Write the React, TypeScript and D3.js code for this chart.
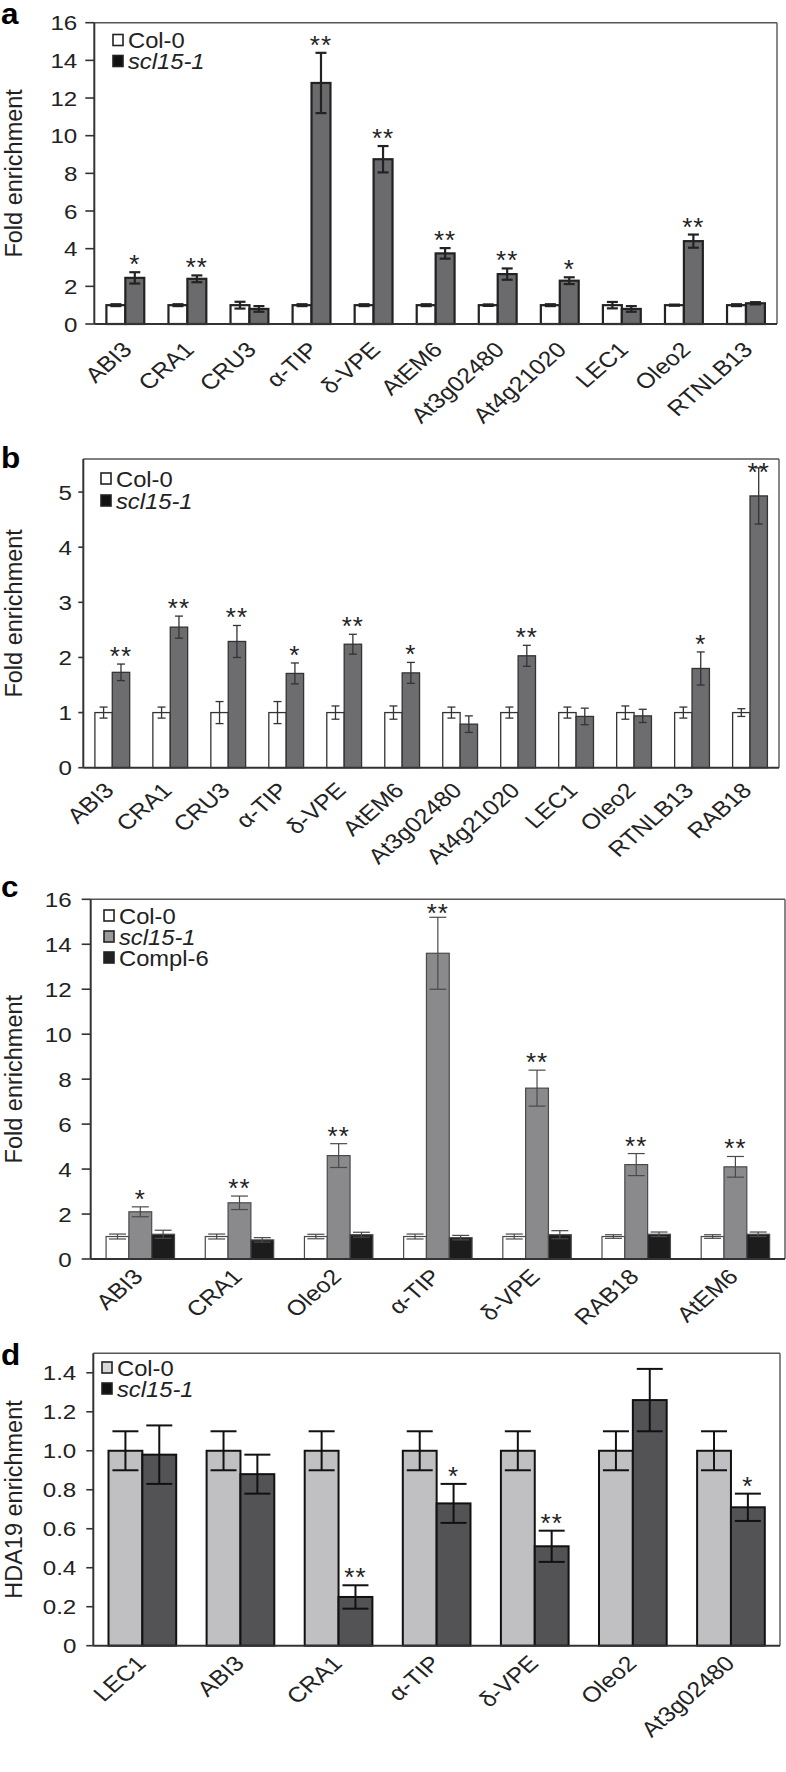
import * as d3 from "d3";
import React from "react";

// panel a
const catsA = ["ABI3", "CRA1", "CRU3", "α-TIP", "δ-VPE", "AtEM6", "At3g02480", "At4g21020", "LEC1", "Oleo2", "RTNLB13"];
const colA = [1, 1, 1, 1, 1, 1, 1, 1, 1, 1, 1];
const colErrA = [0.05, 0.05, 0.18, 0.05, 0.05, 0.05, 0.04, 0.05, 0.17, 0.03, 0.05];
const sclA = [2.45, 2.4, 0.8, 12.8, 8.75, 3.75, 2.65, 2.3, 0.8, 4.4, 1.1];
const sclErrA = [0.3, 0.18, 0.15, 1.6, 0.7, 0.28, 0.3, 0.18, 0.15, 0.35, 0.06];
const starsA = ["*", "**", "", "**", "**", "**", "**", "*", "", "**", ""];
const ticksA = [0, 2, 4, 6, 8, 10, 12, 14, 16];

// panel b
const catsB = ["ABI3", "CRA1", "CRU3", "α-TIP", "δ-VPE", "AtEM6", "At3g02480", "At4g21020", "LEC1", "Oleo2", "RTNLB13", "RAB18"];
const colB = [1, 1, 1, 1, 1, 1, 1, 1, 1, 1, 1, 1];
const colErrB = [0.1, 0.1, 0.2, 0.2, 0.12, 0.12, 0.1, 0.1, 0.1, 0.12, 0.1, 0.07];
const sclB = [1.73, 2.55, 2.29, 1.71, 2.24, 1.72, 0.79, 2.03, 0.93, 0.94, 1.8, 4.93];
const sclErrB = [0.15, 0.2, 0.29, 0.19, 0.18, 0.19, 0.15, 0.19, 0.15, 0.12, 0.3, 0.51];
const starsB = ["**", "**", "**", "*", "**", "*", "", "**", "", "", "*", "**"];
const ticksB = [0, 1, 2, 3, 4, 5];

// panel c
const catsC = ["ABI3", "CRA1", "Oleo2", "α-TIP", "δ-VPE", "RAB18", "AtEM6"];
const colC = [1, 1, 1, 1, 1, 1, 1];
const colErrC = [0.11, 0.11, 0.1, 0.11, 0.11, 0.08, 0.08];
const sclC = [2.1, 2.5, 4.6, 13.6, 7.6, 4.2, 4.1];
const sclErrC = [0.22, 0.3, 0.53, 1.6, 0.8, 0.49, 0.46];
const complC = [1.1, 0.85, 1.08, 0.95, 1.08, 1.1, 1.1];
const complErrC = [0.18, 0.1, 0.11, 0.1, 0.18, 0.1, 0.1];
const starsC = ["*", "**", "**", "**", "**", "**", "**"];
const ticksC = [0, 2, 4, 6, 8, 10, 12, 14, 16];

// panel d
const catsD = ["LEC1", "ABI3", "CRA1", "α-TIP", "δ-VPE", "Oleo2", "At3g02480"];
const colD = [1, 1, 1, 1, 1, 1, 1];
const colErrD = [0.1, 0.1, 0.1, 0.1, 0.1, 0.1, 0.1];
const sclD = [0.98, 0.88, 0.25, 0.73, 0.51, 1.26, 0.71];
const sclErrD = [0.15, 0.1, 0.06, 0.1, 0.08, 0.16, 0.07];
const starsD = ["", "", "**", "*", "**", "", "*"];
const ticksD = [0, 0.2, 0.4, 0.6, 0.8, 1.0, 1.2, 1.4];

const FONT = "'Liberation Sans', Arial, Helvetica, sans-serif";
// the figure's lettering is a little wider than Arial
const SX = 1.15;

type Series = { name: string; values: number[]; errs: number[]; fill: string; legendFill: string; italic?: boolean };

type PanelProps = {
  letter: string;
  letterY: number;
  cats: string[];
  series: Series[];
  stars: string[];
  starSeries: number;
  yMax: number;
  ticks: number[];
  fmt: (v: number) => string;
  left: number;
  right: number;
  top: number;
  bottom: number;
  pad: number;
  stroke: string;
  strokeW: number;
  capW: number;
  tickLen: number;
  labelGap: number;
  catDx: number;
  catDy: number;
  yLabel: string;
  legendX: number;
  legendY: number;
  legendDy: number;
};

const Panel = (p: PanelProps) => {
  const x = d3.scaleBand<string>().domain(p.cats).range([p.left, p.right]).paddingInner(p.pad).paddingOuter(p.pad / 2);
  const inner = d3.scaleBand<number>().domain(p.series.map((_, i) => i)).range([0, x.bandwidth()]);
  const y = d3.scaleLinear().domain([0, p.yMax]).range([p.bottom, p.top]);

  return (
    <g fontFamily={FONT}>
      <text transform={`translate(1,${p.letterY}) scale(1.05,1)`} fontSize={30} fontWeight="bold">{p.letter}</text>
      {/* frame */}
      <line x1={p.left} x2={p.right} y1={p.top} y2={p.top} stroke="#555" strokeWidth={1.4} />
      <line x1={p.right} x2={p.right} y1={p.top} y2={p.bottom} stroke="#555" strokeWidth={1.4} />

      {p.cats.map((c, ci) =>
        p.series.map((s, si) => {
          const bx = (x(c) ?? 0) + (inner(si) ?? 0);
          const bw = inner.bandwidth();
          const v = s.values[ci];
          const e = s.errs[ci];
          const cx = bx + bw / 2;
          return (
            <g key={c + si}>
              <rect x={bx} y={y(v)} width={bw} height={p.bottom - y(v)} fill={s.fill} stroke={p.stroke} strokeWidth={p.strokeW} />
              <line x1={cx} x2={cx} y1={y(v - e)} y2={y(v + e)} stroke={p.stroke} strokeWidth={p.strokeW} />
              <line x1={cx - p.capW / 2} x2={cx + p.capW / 2} y1={y(v + e)} y2={y(v + e)} stroke={p.stroke} strokeWidth={p.strokeW} />
              <line x1={cx - p.capW / 2} x2={cx + p.capW / 2} y1={y(v - e)} y2={y(v - e)} stroke={p.stroke} strokeWidth={p.strokeW} />
            </g>
          );
        })
      )}

      {/* significance stars */}
      {p.cats.map((c, ci) => {
        const s = p.series[p.starSeries];
        if (!p.stars[ci]) return null;
        const cx = (x(c) ?? 0) + (inner(p.starSeries) ?? 0) + inner.bandwidth() / 2;
        const capY = y(s.values[ci] + s.errs[ci]);
        const centre = Math.max(capY - 14.5, p.top + 6.7);
        return (
          <text key={"s" + c} x={cx} y={centre + 15.5} fontSize={26} textAnchor="middle" letterSpacing={1} fill="#222">
            {p.stars[ci]}
          </text>
        );
      })}

      {/* axes */}
      <line x1={p.left} x2={p.right} y1={p.bottom} y2={p.bottom} stroke="#333" strokeWidth={2} />
      <line x1={p.left} x2={p.left} y1={p.top} y2={p.bottom} stroke="#333" strokeWidth={2} />
      {p.ticks.map((t) => (
        <g key={"t" + t}>
          <line x1={p.left - p.tickLen} x2={p.left} y1={y(t)} y2={y(t)} stroke="#333" strokeWidth={1.6} />
          <text
            transform={`translate(${p.left - p.labelGap},${y(t)}) scale(${SX},1)`}
            dy="0.36em"
            fontSize={21}
            textAnchor="end"
            fill="#222"
          >
            {p.fmt(t)}
          </text>
        </g>
      ))}
      <text
        transform={`translate(22,${(p.top + p.bottom) / 2}) rotate(-90)`}
        fontSize={23.5}
        textAnchor="middle"
        fill="#222"
      >
        {p.yLabel}
      </text>

      {/* category labels */}
      {p.cats.map((c) => {
        const cx = (x(c) ?? 0) + x.bandwidth() / 2;
        return (
          <text
            key={"c" + c}
            transform={`translate(${cx + p.catDx},${p.bottom + p.catDy}) scale(${SX},1) rotate(-45)`}
            fontSize={21.5}
            textAnchor="end"
            fill="#222"
          >
            {c}
          </text>
        );
      })}

      {/* legend */}
      {p.series.map((s, si) => {
        const ly = p.legendY + si * p.legendDy;
        return (
          <g key={"l" + si}>
            <rect x={p.legendX} y={ly - 13.5} width={10} height={11} fill={s.legendFill} stroke="#222" strokeWidth={1.6} />
            <text
              transform={`translate(${p.legendX + 15},${ly}) scale(1.08,1)`}
              fontSize={22}
              fontStyle={s.italic ? "italic" : "normal"}
              fill="#222"
            >
              {s.name}
            </text>
          </g>
        );
      })}
    </g>
  );
};

const fmtInt = (v: number) => d3.format("d")(v);
const fmtD = (v: number) => (v === 0 ? "0" : d3.format(".1f")(v));

const App = () => {
  return (
    <svg width={786} height={1772} style={{ position: "absolute", left: 0, top: 0, background: "#fff" }}>
      <rect width={786} height={1772} fill="#fff" />
      <Panel
        letter="a" letterY={24} cats={catsA}
        series={[
          { name: "Col-0", values: colA, errs: colErrA, fill: "#fff", legendFill: "#fff" },
          { name: "scl15-1", values: sclA, errs: sclErrA, fill: "#6b6b6e", legendFill: "#111", italic: true },
        ]}
        stars={starsA} starSeries={1} yMax={16} ticks={ticksA} fmt={fmtInt}
        left={94.3} right={777} top={22.7} bottom={324} pad={0.39}
        stroke="#222" strokeW={2.2} capW={11} tickLen={9} labelGap={17} catDx={8} catDy={27}
        yLabel="Fold enrichment" legendX={113} legendY={48} legendDy={21}
      />
      <Panel
        letter="b" letterY={468} cats={catsB}
        series={[
          { name: "Col-0", values: colB, errs: colErrB, fill: "#fff", legendFill: "#fff" },
          { name: "scl15-1", values: sclB, errs: sclErrB, fill: "#6d6d70", legendFill: "#111", italic: true },
        ]}
        stars={starsB} starSeries={1} yMax={5.6} ticks={ticksB} fmt={fmtInt}
        left={83.3} right={779} top={459} bottom={767.7} pad={0.4}
        stroke="#333" strokeW={1.3} capW={8} tickLen={5} labelGap={11.5} catDx={3} catDy={24}
        yLabel="Fold enrichment" legendX={101} legendY={486.5} legendDy={22}
      />
      <Panel
        letter="c" letterY={897} cats={catsC}
        series={[
          { name: "Col-0", values: colC, errs: colErrC, fill: "#fff", legendFill: "#fff" },
          { name: "scl15-1", values: sclC, errs: sclErrC, fill: "#8a8a8d", legendFill: "#9a9a9c", italic: true },
          { name: "Compl-6", values: complC, errs: complErrC, fill: "#1c1c1c", legendFill: "#222" },
        ]}
        stars={starsC} starSeries={1} yMax={16} ticks={ticksC} fmt={fmtInt}
        left={90.7} right={785} top={899.3} bottom={1259} pad={0.31}
        stroke="#4a4a4a" strokeW={1.2} capW={17} tickLen={9} labelGap={19} catDx={4} catDy={19}
        yLabel="Fold enrichment" legendX={104} legendY={923.5} legendDy={21}
      />
      <Panel
        letter="d" letterY={1365} cats={catsD}
        series={[
          { name: "Col-0", values: colD, errs: colErrD, fill: "#c0c0c3", legendFill: "#d8d8da" },
          { name: "scl15-1", values: sclD, errs: sclErrD, fill: "#535356", legendFill: "#111", italic: true },
        ]}
        stars={starsD} starSeries={1} yMax={1.5} ticks={ticksD} fmt={fmtD}
        left={93.3} right={780} top={1353.3} bottom={1645.7} pad={0.31}
        stroke="#111" strokeW={2} capW={26} tickLen={7} labelGap={17} catDx={5} catDy={19}
        yLabel="HDA19 enrichment" legendX={102} legendY={1375.5} legendDy={21}
      />
    </svg>
  );
};

export default App;
